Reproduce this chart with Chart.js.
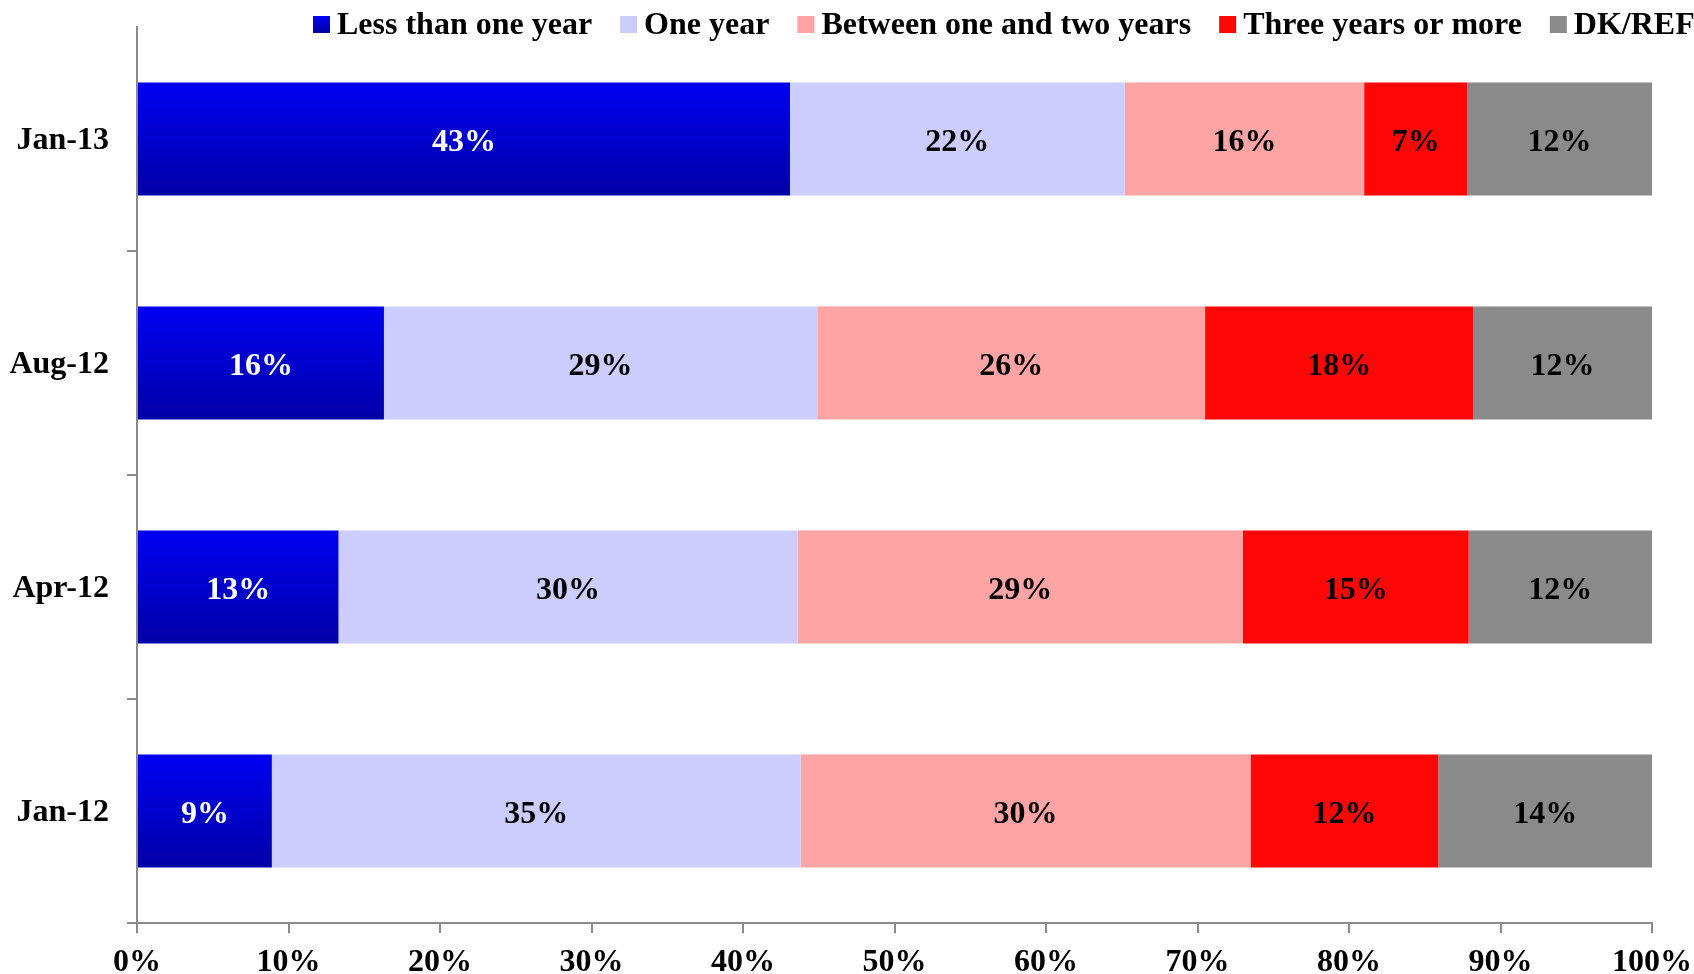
<!DOCTYPE html>
<html>
<head>
<meta charset="utf-8">
<script src="https://cdn.jsdelivr.net/npm/chart.js@4/dist/chart.umd.min.js"></script>
<style>
  html, body { margin: 0; padding: 0; background: #fff; overflow: hidden; }
  #wrap { width: 1694px; height: 974px; }
</style>
</head>
<body>
<div id="wrap"><canvas id="chart"></canvas></div>
<script>
const periods = ["Jan-13", "Aug-12", "Apr-12", "Jan-12"];
const seriesNames = ["Less than one year", "One year", "Between one and two years", "Three years or more", "DK/REF"];
const lessThanOneYear = [43.1, 16.3, 13.3, 8.9];
const oneYear = [22.1, 28.6, 30.3, 34.9];
const oneToTwoYears = [15.8, 25.6, 29.4, 29.7];
const threeOrMore = [6.8, 17.7, 14.9, 12.4];
const dkRef = [12.2, 11.8, 12.1, 14.1];

const FONT = '"Liberation Serif", "Times New Roman", serif';
const AXIS_GREY = "#8a8a8a";
const BAR_PCT = 0.505;

Chart.defaults.font.family = FONT;
Chart.defaults.font.size = 32;
Chart.defaults.font.weight = "bold";
Chart.defaults.color = "#000";

// blue bars fade from bright blue at the top to a darker blue at the bottom
function blueFill(context) {
  const chart = context.chart;
  const y = chart.scales.y;
  if (!chart.chartArea || !y || context.dataIndex === undefined) return "#0000d0";
  const half = (y.height / periods.length) * BAR_PCT / 2;
  const yc = y.getPixelForValue(context.dataIndex);
  const g = chart.ctx.createLinearGradient(0, yc - half, 0, yc + half);
  g.addColorStop(0, "#0000f2");
  g.addColorStop(1, "#0000a8");
  return g;
}

const barLabels = {
  id: "barLabels",
  afterDatasetsDraw(chart) {
    const ctx = chart.ctx;
    ctx.save();
    ctx.font = "bold 32px " + FONT;
    ctx.textAlign = "center";
    ctx.textBaseline = "middle";
    chart.data.datasets.forEach((ds, i) => {
      chart.getDatasetMeta(i).data.forEach((bar, j) => {
        const p = bar.getCenterPoint();
        ctx.fillStyle = i === 0 ? "#fff" : "#000";
        ctx.fillText(Math.round(ds.data[j]) + "%", p.x, p.y + 4);
      });
    });
    ctx.restore();
  }
};

// legend sits over the top of the plot and runs off the right edge
const topLegend = {
  id: "topLegend",
  afterDraw(chart) {
    const ctx = chart.ctx;
    ctx.save();
    ctx.font = "bold 32px " + FONT;
    ctx.textBaseline = "middle";
    let x = 313;
    chart.data.datasets.forEach((ds, i) => {
      if (i === 0) {
        const g = ctx.createLinearGradient(0, 16, 0, 33);
        g.addColorStop(0, "#0000f2");
        g.addColorStop(1, "#0000a8");
        ctx.fillStyle = g;
      } else {
        ctx.fillStyle = ds.backgroundColor;
      }
      ctx.fillRect(x, 16, 17, 17);
      ctx.fillStyle = "#000";
      ctx.fillText(ds.label, x + 24, 26);
      x += 24 + ctx.measureText(ds.label).width + 28;
    });
    ctx.restore();
  }
};

new Chart(document.getElementById("chart"), {
  type: "bar",
  data: {
    labels: periods,
    datasets: [
      { label: seriesNames[0], data: lessThanOneYear, backgroundColor: blueFill },
      { label: seriesNames[1], data: oneYear, backgroundColor: "#ccccff" },
      { label: seriesNames[2], data: oneToTwoYears, backgroundColor: "#ffa4a4" },
      { label: seriesNames[3], data: threeOrMore, backgroundColor: "#ff0606" },
      { label: seriesNames[4], data: dkRef, backgroundColor: "#8a8a8a" }
    ]
  },
  options: {
    indexAxis: "y",
    responsive: true,
    maintainAspectRatio: false,
    animation: false,
    datasets: { bar: { barPercentage: BAR_PCT, categoryPercentage: 1 } },
    layout: { padding: { top: 27, right: 42, left: 0, bottom: 0 } },
    plugins: {
      legend: { display: false },
      tooltip: { enabled: false }
    },
    scales: {
      x: {
        stacked: true,
        min: 0,
        max: 100,
        ticks: { stepSize: 10, padding: 11, callback: v => v + "%" },
        grid: { drawOnChartArea: false, tickLength: 10, color: AXIS_GREY, lineWidth: 2 },
        border: { color: AXIS_GREY, width: 2 },
        afterFit: s => { s.height = 51; s.paddingLeft = 0; s.paddingRight = 0; }
      },
      y: {
        stacked: true,
        ticks: { padding: 18, labelOffset: 2 },
        grid: {
          offset: true,
          drawOnChartArea: false,
          tickLength: 10,
          lineWidth: 2,
          color: c => c.index === 0 ? "transparent" : AXIS_GREY
        },
        border: { color: AXIS_GREY, width: 2 },
        afterFit: s => { s.width = 137; s.paddingTop = 0; s.paddingBottom = 0; }
      }
    }
  },
  plugins: [barLabels, topLegend]
});
</script>
</body>
</html>
